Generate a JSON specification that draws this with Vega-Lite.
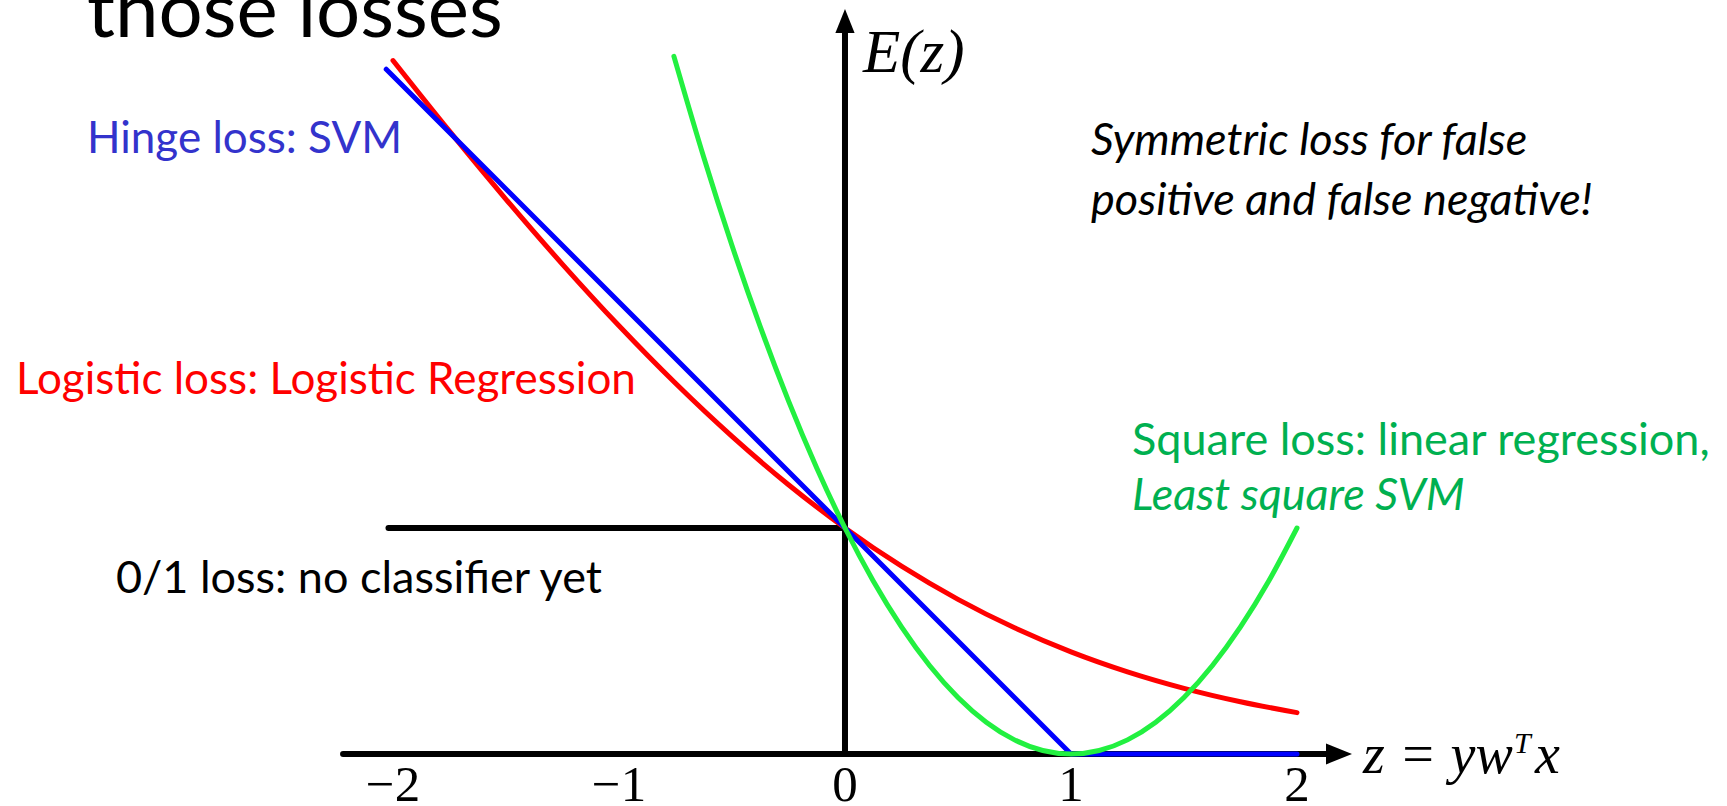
{
  "$schema": "https://vega.github.io/schema/vega-lite/v6.json",
  "width": 1727,
  "height": 806,
  "autosize": {"type": "none"},
  "padding": 0,
  "background": "white",
  "config": {"view": {"stroke": null}},
  "datasets": {
    "curves": [
      {"series": "logistic", "z": -2.0, "e": 3.0685},
      {"series": "logistic", "z": -1.75, "e": 2.7559},
      {"series": "logistic", "z": -1.5, "e": 2.4546},
      {"series": "logistic", "z": -1.25, "e": 2.1668},
      {"series": "logistic", "z": -1.0, "e": 1.8946},
      {"series": "logistic", "z": -0.75, "e": 1.6402},
      {"series": "logistic", "z": -0.5, "e": 1.4053},
      {"series": "logistic", "z": -0.25, "e": 1.1916},
      {"series": "logistic", "z": 0.0, "e": 1.0},
      {"series": "logistic", "z": 0.25, "e": 0.8309},
      {"series": "logistic", "z": 0.5, "e": 0.684},
      {"series": "logistic", "z": 0.75, "e": 0.5582},
      {"series": "logistic", "z": 1.0, "e": 0.452},
      {"series": "logistic", "z": 1.25, "e": 0.3635},
      {"series": "logistic", "z": 1.5, "e": 0.2906},
      {"series": "logistic", "z": 1.75, "e": 0.2312},
      {"series": "logistic", "z": 2.0, "e": 0.1831},
      {"series": "hinge", "z": -2.03, "e": 3.03},
      {"series": "hinge", "z": 1.0, "e": 0.0},
      {"series": "hinge", "z": 2.0, "e": 0.0},
      {"series": "square", "z": -0.757, "e": 3.087},
      {"series": "square", "z": -0.625, "e": 2.6406},
      {"series": "square", "z": -0.5, "e": 2.25},
      {"series": "square", "z": -0.375, "e": 1.8906},
      {"series": "square", "z": -0.25, "e": 1.5625},
      {"series": "square", "z": -0.125, "e": 1.2656},
      {"series": "square", "z": 0.0, "e": 1.0},
      {"series": "square", "z": 0.125, "e": 0.7656},
      {"series": "square", "z": 0.25, "e": 0.5625},
      {"series": "square", "z": 0.375, "e": 0.3906},
      {"series": "square", "z": 0.5, "e": 0.25},
      {"series": "square", "z": 0.625, "e": 0.1406},
      {"series": "square", "z": 0.75, "e": 0.0625},
      {"series": "square", "z": 0.875, "e": 0.0156},
      {"series": "square", "z": 1.0, "e": 0.0},
      {"series": "square", "z": 1.125, "e": 0.0156},
      {"series": "square", "z": 1.25, "e": 0.0625},
      {"series": "square", "z": 1.375, "e": 0.1406},
      {"series": "square", "z": 1.5, "e": 0.25},
      {"series": "square", "z": 1.625, "e": 0.3906},
      {"series": "square", "z": 1.75, "e": 0.5625},
      {"series": "square", "z": 1.875, "e": 0.7656},
      {"series": "square", "z": 2.0, "e": 1.0}
    ],
    "rules": [
      {"name": "xaxis", "z": -2.221, "z2": 2.15, "e": 0.0, "e2": 0.0},
      {"name": "yaxis", "z": 0.0, "z2": 0.0, "e": 0.0, "e2": 3.2},
      {"name": "zeroone", "z": -2.02, "z2": 0.0, "e": 1.0, "e2": 1.0}
    ],
    "arrowsx": [{"z": 2.186, "e": 0.0}],
    "arrowsy": [{"z": 0.0, "e": 3.2434}]
  },
  "encoding": {
    "x": {"field": "z", "type": "quantitative", "scale": {"domain": [-3.7389, 3.9027], "nice": false, "zero": false}, "axis": null},
    "y": {"field": "e", "type": "quantitative", "scale": {"domain": [-0.2301, 3.3363], "nice": false, "zero": false}, "axis": null}
  },
  "layer": [
    {
      "data": {"name": "rules"},
      "mark": {"type": "rule", "color": "black", "strokeWidth": 6, "strokeCap": "round"},
      "encoding": {"x2": {"field": "z2"}, "y2": {"field": "e2"}}
    },
    {
      "data": {"name": "arrowsx"},
      "mark": {"type": "point", "shape": "M 1 0 L -1 -0.8 L -1 0.8 Z", "size": 676, "filled": true, "color": "black", "opacity": 1}
    },
    {
      "data": {"name": "arrowsy"},
      "mark": {"type": "point", "shape": "M 0 -1 L -0.8 1 L 0.8 1 Z", "size": 576, "filled": true, "color": "black", "opacity": 1}
    },
    {
      "data": {"name": "curves"},
      "transform": [{"filter": "datum.series === 'logistic'"}],
      "mark": {"type": "line", "color": "#ff0000", "strokeWidth": 5, "strokeCap": "round", "interpolate": "monotone"}
    },
    {
      "data": {"name": "curves"},
      "transform": [{"filter": "datum.series === 'hinge'"}],
      "mark": {"type": "line", "color": "#0000ff", "strokeWidth": 5, "strokeCap": "round", "strokeJoin": "round"}
    },
    {
      "data": {"name": "curves"},
      "transform": [{"filter": "datum.series === 'square'"}],
      "mark": {"type": "line", "color": "#22f040", "strokeWidth": 5, "strokeCap": "round", "interpolate": "monotone"}
    },
    {
      "data": {"values": [{"label": "those losses", "z": -3.354, "e": 3.1726}]},
      "mark": {"type": "text", "font": "Lato", "fontSize": 78, "align": "left", "baseline": "alphabetic", "color": "black"},
      "encoding": {"text": {"field": "label"}}
    },
    {
      "data": {"values": [{"label": "Hinge loss: SVM", "z": -3.354, "e": 2.659}]},
      "mark": {"type": "text", "font": "Lato", "fontSize": 44, "align": "left", "baseline": "alphabetic", "color": "#3333cc"},
      "encoding": {"text": {"field": "label"}}
    },
    {
      "data": {"values": [
        {"label": "Symmetric loss for false", "z": 1.0885, "e": 2.6504},
        {"label": "positive and false negative!", "z": 1.0885, "e": 2.385}
      ]},
      "mark": {"type": "text", "font": "Lato", "fontSize": 45, "fontStyle": "italic", "align": "left", "baseline": "alphabetic", "color": "black"},
      "encoding": {"text": {"field": "label"}}
    },
    {
      "data": {"values": [{"label": "Logistic loss: Logistic Regression", "z": -3.668, "e": 1.593}]},
      "mark": {"type": "text", "font": "Lato", "fontSize": 44, "align": "left", "baseline": "alphabetic", "color": "#ff0000"},
      "encoding": {"text": {"field": "label"}}
    },
    {
      "data": {"values": [{"label": "Square loss: linear regression,", "z": 1.27, "e": 1.323}]},
      "mark": {"type": "text", "font": "Lato", "fontSize": 45, "align": "left", "baseline": "alphabetic", "color": "#00b050"},
      "encoding": {"text": {"field": "label"}}
    },
    {
      "data": {"values": [{"label": "Least square SVM", "z": 1.27, "e": 1.0796}]},
      "mark": {"type": "text", "font": "Lato", "fontSize": 45, "fontStyle": "italic", "align": "left", "baseline": "alphabetic", "color": "#00b050"},
      "encoding": {"text": {"field": "label"}}
    },
    {
      "data": {"values": [{"label": "0/1 loss: no classifier yet", "z": -3.226, "e": 0.7124}]},
      "mark": {"type": "text", "font": "Lato", "fontSize": 45, "align": "left", "baseline": "alphabetic", "color": "black"},
      "encoding": {"text": {"field": "label"}}
    },
    {
      "data": {"values": [{"label": "E(z)", "z": 0.0796, "e": 3.0177}]},
      "mark": {"type": "text", "font": "Liberation Serif", "fontSize": 61, "fontStyle": "italic", "align": "left", "baseline": "alphabetic", "color": "black"},
      "encoding": {"text": {"field": "label"}}
    },
    {
      "data": {"values": [
        {"label": "−2", "z": -2, "e": -0.208},
        {"label": "−1", "z": -1, "e": -0.208},
        {"label": "0", "z": 0, "e": -0.208},
        {"label": "1", "z": 1, "e": -0.208},
        {"label": "2", "z": 2, "e": -0.208}
      ]},
      "mark": {"type": "text", "font": "Liberation Serif", "fontSize": 51, "align": "center", "baseline": "alphabetic", "color": "black"},
      "encoding": {"text": {"field": "label"}}
    },
    {
      "data": {"values": [
        {"label": "z = yw", "z": 2.292, "e": -0.0841},
        {"label": "x", "z": 3.053, "e": -0.0841}
      ]},
      "mark": {"type": "text", "font": "Liberation Serif", "fontSize": 56, "fontStyle": "italic", "align": "left", "baseline": "alphabetic", "color": "black"},
      "encoding": {"text": {"field": "label"}}
    },
    {
      "data": {"values": [{"label": "T", "z": 2.96, "e": 0.0044}]},
      "mark": {"type": "text", "font": "Liberation Serif", "fontSize": 30, "fontStyle": "italic", "align": "left", "baseline": "alphabetic", "color": "black"},
      "encoding": {"text": {"field": "label"}}
    }
  ]
}
